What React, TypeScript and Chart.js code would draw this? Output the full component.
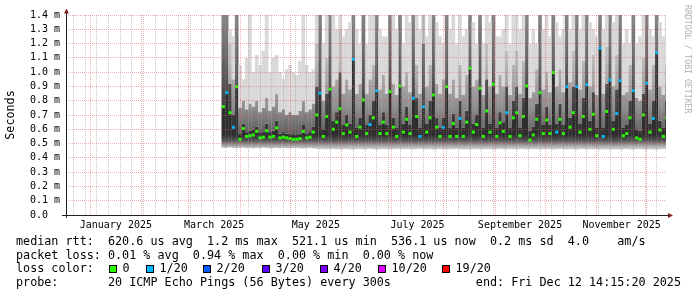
import React, { useEffect, useRef } from "react";
import { Chart, registerables } from "chart.js";

Chart.register(...registerables);

// ---------- time frame ----------
const DAY_MS = 86400000;
const GRAPH_START = Date.UTC(2024, 11, 17, 14, 15, 20);
const GRAPH_END = Date.UTC(2025, 11, 12, 14, 15, 20);
const FIRST_COLUMN = Date.UTC(2025, 2, 22);
const COLUMN_DAYS = 2;

// ---------- data (values in ms) ----------
const medianRtt = [
  0.758, 0.856, 0.716, 0.614, 0.898, 0.53, 0.605, 0.55, 0.555, 0.56,
  0.585, 0.54, 0.545, 0.59, 0.545, 0.55, 0.61, 0.54, 0.545, 0.54,
  0.535, 0.53, 0.53, 0.535, 0.585, 0.54, 0.545, 0.58, 0.7, 0.852,
  0.55, 0.69, 0.88, 0.6, 0.65, 0.744, 0.57, 0.63, 0.58, 1.09,
  0.55, 0.615, 0.805, 0.57, 0.633, 0.68, 0.87, 0.57, 0.65, 0.57,
  0.863, 0.615, 0.55, 0.903, 0.58, 0.67, 0.57, 0.817, 0.69, 0.55,
  0.758, 0.58, 0.68, 0.84, 0.615, 0.55, 0.614, 0.898, 0.55, 0.64,
  0.55, 0.676, 0.55, 0.65, 1.027, 0.58, 0.633, 0.887, 0.55, 0.728,
  0.58, 0.915, 0.55, 0.645, 0.585, 0.716, 0.55, 0.68, 0.716, 0.555,
  0.69, 0.903, 0.525, 0.56, 0.67, 0.856, 0.57, 0.665, 0.57, 0.996,
  0.58, 0.67, 0.57, 0.898, 0.615, 0.716, 0.898, 0.58, 0.69, 0.912,
  0.6, 0.705, 0.555, 1.167, 0.55, 0.725, 0.945, 0.6, 0.71, 0.94,
  0.555, 0.57, 0.68, 0.87, 0.54, 0.53, 0.7, 0.922, 0.58, 0.676,
  1.136, 0.595, 0.55, 0.68,
];

const lostPings = [
  0, 1, 0, 1, 0, 0, 0, 0, 0, 0,
  0, 0, 0, 0, 0, 0, 0, 0, 0, 0,
  0, 0, 0, 0, 0, 0, 0, 0, 0, 1,
  0, 0, 0, 0, 0, 0, 0, 0, 0, 1,
  0, 0, 0, 0, 1, 0, 1, 0, 0, 0,
  0, 0, 0, 0, 0, 0, 0, 1, 0, 1,
  1, 0, 0, 0, 0, 0, 1, 0, 0, 0,
  0, 1, 0, 0, 0, 0, 0, 0, 0, 0,
  0, 0, 0, 0, 0, 1, 0, 0, 0, 0,
  0, 0, 0, 0, 0, 0, 0, 0, 0, 0,
  1, 0, 0, 1, 0, 0, 1, 0, 0, 1,
  0, 0, 0, 1, 1, 0, 1, 0, 1, 1,
  0, 0, 0, 1, 0, 0, 0, 1, 0, 1,
  1, 0, 0, 0,
];

const smokeMin = [
  0.472, 0.47, 0.474, 0.47, 0.468, 0.47, 0.472, 0.468, 0.47, 0.466,
  0.47, 0.468, 0.472, 0.47, 0.466, 0.468, 0.47, 0.467, 0.47, 0.468,
  0.466, 0.468, 0.47, 0.467, 0.465, 0.468, 0.47, 0.466, 0.463, 0.46,
  0.462, 0.458, 0.46, 0.463, 0.46, 0.457, 0.46, 0.462, 0.459, 0.456,
  0.46, 0.462, 0.458, 0.46, 0.463, 0.46, 0.457, 0.46, 0.462, 0.46,
  0.458, 0.46, 0.463, 0.459, 0.46, 0.462, 0.46, 0.457, 0.46, 0.463,
  0.46, 0.458, 0.46, 0.456, 0.46, 0.462, 0.46, 0.458, 0.461, 0.46,
  0.463, 0.46, 0.458, 0.46, 0.456, 0.46, 0.462, 0.458, 0.46, 0.461,
  0.46, 0.457, 0.46, 0.462, 0.46, 0.458, 0.463, 0.46, 0.458, 0.46,
  0.462, 0.457, 0.46, 0.461, 0.46, 0.456, 0.46, 0.462, 0.459, 0.457,
  0.46, 0.462, 0.46, 0.457, 0.46, 0.458, 0.456, 0.46, 0.462, 0.457,
  0.46, 0.458, 0.462, 0.455, 0.46, 0.458, 0.456, 0.46, 0.459, 0.456,
  0.46, 0.462, 0.458, 0.456, 0.46, 0.462, 0.458, 0.456, 0.46, 0.458,
  0.455, 0.46, 0.462, 0.458,
];

const smokeDarkTop = [
  1.4, 1.4, 0.92, 0.7, 1.4, 0.57, 0.64, 0.58, 0.59, 0.6,
  0.62, 0.58, 0.58, 0.64, 0.58, 0.59, 0.66, 0.57, 0.58, 0.57,
  0.57, 0.56, 0.56, 0.57, 0.63, 0.57, 0.58, 0.62, 0.9, 1.4,
  0.6, 0.85, 1.4, 0.66, 0.72, 1.0, 0.63, 0.7, 0.64, 1.4,
  0.61, 0.68, 1.4, 0.63, 0.7, 0.8, 1.4, 0.63, 0.72, 0.63,
  1.4, 0.68, 0.61, 1.4, 0.64, 0.76, 0.63, 1.4, 0.82, 0.61,
  1.2, 0.64, 0.8, 1.4, 0.68, 0.61, 0.68, 1.4, 0.61, 0.71,
  0.61, 0.8, 0.61, 0.73, 1.4, 0.64, 0.7, 1.4, 0.61, 0.95,
  0.64, 1.4, 0.61, 0.72, 0.65, 0.9, 0.61, 0.8, 0.9, 0.61,
  0.82, 1.4, 0.59, 0.62, 0.78, 1.4, 0.63, 0.76, 0.63, 1.4,
  0.64, 0.78, 0.63, 1.4, 0.68, 0.9, 1.4, 0.64, 0.82, 1.4,
  0.66, 0.86, 0.61, 1.4, 0.61, 0.92, 1.4, 0.66, 0.88, 1.4,
  0.61, 0.63, 0.8, 1.4, 0.6, 0.59, 0.85, 1.4, 0.64, 0.8,
  1.4, 0.66, 0.61, 0.8,
];

const smokeMidTop = [
  1.4, 1.4, 1.2, 0.95, 1.4, 0.75, 0.8, 0.74, 0.78, 0.76,
  0.8, 0.72, 0.75, 0.82, 0.73, 0.76, 0.85, 0.72, 0.74, 0.7,
  0.72, 0.7, 0.7, 0.73, 0.8, 0.72, 0.74, 0.78, 1.2, 1.4,
  0.8, 1.1, 1.4, 0.9, 0.95, 1.3, 0.85, 0.95, 0.88, 1.4,
  0.85, 0.92, 1.4, 0.85, 0.95, 1.05, 1.4, 0.88, 0.98, 0.85,
  1.4, 0.92, 0.84, 1.4, 0.9, 1.0, 0.86, 1.4, 1.05, 0.85,
  1.4, 0.9, 1.05, 1.4, 0.92, 0.85, 0.95, 1.4, 0.85, 0.95,
  0.82, 1.05, 0.84, 0.98, 1.4, 0.9, 0.95, 1.4, 0.84, 1.2,
  0.9, 1.4, 0.85, 0.98, 0.9, 1.15, 0.84, 1.05, 1.15, 0.85,
  1.08, 1.4, 0.82, 0.86, 1.02, 1.4, 0.88, 1.0, 0.86, 1.4,
  0.9, 1.02, 0.86, 1.4, 0.93, 1.15, 1.4, 0.88, 1.08, 1.4,
  0.9, 1.12, 0.84, 1.4, 0.85, 1.18, 1.4, 0.9, 1.12, 1.4,
  0.84, 0.86, 1.05, 1.4, 0.82, 0.8, 1.1, 1.4, 0.88, 1.05,
  1.4, 0.9, 0.84, 1.05,
];

const smokeMax = [
  1.4, 1.4, 1.3, 1.25, 1.4, 1.05, 0.95, 1.1, 1.4, 1.0,
  1.12, 1.05, 1.15, 1.4, 1.0, 1.1, 1.12, 1.0, 0.95, 1.02,
  1.05, 1.0, 0.98, 1.08, 1.4, 1.05, 1.0, 1.02, 1.4, 1.4,
  1.2, 1.4, 1.4, 1.4, 1.3, 1.4, 1.25, 1.3, 1.35, 1.4,
  1.3, 1.2, 1.4, 1.2, 1.4, 1.4, 1.4, 1.3, 1.25, 1.25,
  1.4, 1.4, 1.3, 1.4, 1.2, 1.4, 1.35, 1.4, 1.4, 1.3,
  1.4, 1.25, 1.4, 1.4, 1.35, 1.25, 1.2, 1.4, 1.3, 1.4,
  1.2, 1.4, 1.25, 1.3, 1.4, 1.35, 1.2, 1.4, 1.2, 1.4,
  1.35, 1.4, 1.25, 1.25, 1.3, 1.4, 1.2, 1.4, 1.4, 1.3,
  1.4, 1.4, 1.2, 1.3, 1.2, 1.4, 1.3, 1.4, 1.25, 1.4,
  1.35, 1.25, 1.3, 1.4, 1.3, 1.4, 1.4, 1.3, 1.4, 1.4,
  1.35, 1.3, 1.25, 1.4, 1.3, 1.4, 1.4, 1.35, 1.4, 1.4,
  1.2, 1.3, 1.2, 1.4, 1.2, 1.25, 1.4, 1.4, 1.3, 1.25,
  1.4, 1.35, 1.25, 1.4,
];

// ---------- axes / legend text ----------
const yTickValues = [0, 0.1, 0.2, 0.3, 0.4, 0.5, 0.6, 0.7, 0.8, 0.9, 1.0, 1.1, 1.2, 1.3, 1.4];
const monthLabels = ["January 2025", "March 2025", "May 2025", "July 2025", "September 2025", "November 2025"];
const monthLabelIndex = [0, 2, 4, 6, 8, 10];

const lossThresholds = [0, 1, 2, 3, 4, 10, 19];
const lossLabels = ["0", "1/20", "2/20", "3/20", "4/20", "10/20", "19/20"];
const lossColors = ["#26ff00", "#00b8ff", "#0059ff", "#5e00ff", "#7e00ff", "#dd00ff", "#ff0000"];

const legendRtt = "median rtt:  620.6 us avg  1.2 ms max  521.1 us min  536.1 us now  0.2 ms sd  4.0    am/s";
const legendLoss = "packet loss: 0.01 % avg  0.94 % max  0.00 % min  0.00 % now";
const legendLossTitle = "loss color:";
const legendProbe = "probe:       20 ICMP Echo Pings (56 Bytes) every 300s            end: Fri Dec 12 14:15:20 2025";
const watermark = "RRDTOOL / TOBI OETIKER";

// ---------- helpers ----------
const toDay = (ms: number) => (ms - GRAPH_START) / DAY_MS;
const columnDay = (i: number) => toDay(FIRST_COLUMN + i * COLUMN_DAYS * DAY_MS);
const lossColor = (lost: number) => {
  let idx = 0;
  lossThresholds.forEach((t, k) => { if (lost >= t) idx = k; });
  return lossColors[idx];
};

const MONO = '"DejaVu Sans Mono", monospace';

function vGradient(chart: any, stops: [number, string][]) {
  const { ctx, chartArea, scales } = chart;
  if (!chartArea) return stops[stops.length - 1][1];
  const v0 = stops[0][0];
  const v1 = stops[stops.length - 1][0];
  const g = ctx.createLinearGradient(0, scales.y.getPixelForValue(v0), 0, scales.y.getPixelForValue(v1));
  stops.forEach(([v, c]) => g.addColorStop((v - v0) / (v1 - v0), c));
  return g;
}

const lowStops: [number, string][] = [[0.455, "#dcdcdc"], [0.49, "#9a9a9a"], [0.52, "#555555"], [0.56, "#2e2e2e"]];
const darkStops: [number, string][] = [[0.55, "#2e2e2e"], [0.85, "#4a4a4a"], [1.4, "#868686"]];
const midStops: [number, string][] = [[0.56, "#5a5a5a"], [0.75, "#8e8e8e"], [1.1, "#bdbdbd"]];

const rrdDecor = {
  id: "rrdDecor",
  afterDatasetsDraw(chart: any) {
    const { ctx, chartArea: a, scales } = chart;
    const xs = scales.x;
    const ys = scales.y;
    const snap = (v: number) => Math.round(v - 0.5) + 0.5;
    const line = (x1: number, y1: number, x2: number, y2: number) => {
      ctx.beginPath();
      ctx.moveTo(x1, y1);
      ctx.lineTo(x2, y2);
      ctx.stroke();
    };
    ctx.save();
    ctx.lineWidth = 1;
    ctx.setLineDash([1, 1]);

    const monthStarts: number[] = [];
    for (let m = 0; m < 12; m++) monthStarts.push(Date.UTC(2025, m, 1));

    // minor grid: weekly
    ctx.strokeStyle = "rgba(143,143,143,0.5)";
    for (let t = Date.UTC(2024, 11, 22); t < GRAPH_END; t += 7 * DAY_MS) {
      if (monthStarts.includes(t)) continue;
      const x = snap(xs.getPixelForValue(toDay(t)));
      line(x, a.top, x, a.bottom);
    }
    // major grid: months + value lines
    ctx.strokeStyle = "rgba(222,79,79,0.45)";
    monthStarts.forEach((t) => {
      const x = snap(xs.getPixelForValue(toDay(t)));
      line(x, a.top, x, a.bottom);
    });
    yTickValues.forEach((v) => {
      const y = snap(ys.getPixelForValue(v));
      line(a.left, y, a.right, y);
    });

    // axes
    ctx.setLineDash([]);
    ctx.strokeStyle = "#1f1f1f";
    const yb = snap(a.bottom);
    const xl = snap(a.left);
    line(a.left - 4, yb, a.right + 3, yb);
    line(xl, a.bottom + 3, xl, a.top - 3);

    // arrows
    ctx.fillStyle = "#801f1f";
    ctx.beginPath();
    ctx.moveTo(a.right + 7, yb);
    ctx.lineTo(a.right + 2, yb - 2.5);
    ctx.lineTo(a.right + 2, yb + 2.5);
    ctx.closePath();
    ctx.fill();
    ctx.beginPath();
    ctx.moveTo(xl, a.top - 6.5);
    ctx.lineTo(xl - 2.5, a.top - 1.5);
    ctx.lineTo(xl + 2.5, a.top - 1.5);
    ctx.closePath();
    ctx.fill();

    // x labels, centred on the month
    ctx.fillStyle = "#000";
    ctx.font = `10px ${MONO}`;
    ctx.textAlign = "center";
    ctx.textBaseline = "alphabetic";
    monthLabels.forEach((lab, k) => {
      const m = monthLabelIndex[k];
      const mid = (Date.UTC(2025, m, 1) + Date.UTC(2025, m + 1, 1)) / 2;
      ctx.fillText(lab, xs.getPixelForValue(toDay(mid)), a.bottom + 13);
    });
    ctx.restore();
  },
};

export default function App() {
  const canvasRef = useRef<HTMLCanvasElement | null>(null);

  useEffect(() => {
    const canvas = canvasRef.current;
    if (!canvas) return;

    const band = (lo: number[], hi: number[]) =>
      lo.map((v, i) => ({ x: columnDay(i), y: [v, hi[i]] }));

    const barCommon = {
      type: "bar" as const,
      grouped: false,
      barPercentage: 1.1,
      categoryPercentage: 1,
      borderWidth: 0,
    };

    const chart = new Chart(canvas, {
      type: "bar",
      data: {
        datasets: [
          {
            ...barCommon,
            data: band(smokeMin, medianRtt) as any,
            backgroundColor: (c: any) => vGradient(c.chart, lowStops),
            order: 5,
          },
          {
            ...barCommon,
            data: band(medianRtt, smokeDarkTop) as any,
            backgroundColor: (c: any) => vGradient(c.chart, darkStops),
            order: 4,
          },
          {
            ...barCommon,
            data: band(smokeDarkTop, smokeMidTop) as any,
            backgroundColor: (c: any) => vGradient(c.chart, midStops),
            order: 3,
          },
          {
            ...barCommon,
            data: band(smokeMidTop, smokeMax) as any,
            backgroundColor: "#d9d9d9",
            order: 2,
          },
          {
            type: "scatter" as const,
            data: medianRtt.map((v, i) => ({ x: columnDay(i), y: v })) as any,
            showLine: false,
            pointStyle: "rect",
            pointRadius: 2.1,
            pointHoverRadius: 2.1,
            pointBorderWidth: 0,
            pointBackgroundColor: lostPings.map(lossColor),
            order: 0,
          } as any,
        ],
      },
      options: {
        responsive: false,
        animation: false,
        devicePixelRatio: 1,
        events: [],
        layout: { padding: { left: 0, top: 15, right: 31, bottom: 82 } },
        plugins: { legend: { display: false }, tooltip: { enabled: false } },
        scales: {
          x: {
            type: "linear",
            display: false,
            offset: false,
            min: 0,
            max: toDay(GRAPH_END),
          },
          y: {
            type: "linear",
            min: 0,
            max: 1.4,
            grid: { display: false, drawTicks: false },
            border: { display: false },
            afterBuildTicks: (scale: any) => {
              scale.ticks = yTickValues.map((v) => ({ value: v }));
            },
            afterFit: (scale: any) => {
              scale.width = 66;
            },
            ticks: {
              autoSkip: false,
              padding: 6,
              color: "#000",
              font: { family: MONO, size: 10 },
              callback: (v: any) => (Number(v) === 0 ? "0.0  " : `${Number(v).toFixed(1)} m`),
            },
            title: {
              display: true,
              text: "Seconds",
              color: "#000",
              font: { family: MONO, size: 11.75 },
              padding: { top: 4, bottom: 4 },
            },
          },
        },
      },
      plugins: [rrdDecor],
    } as any);

    return () => chart.destroy();
  }, []);

  const textStyle: React.CSSProperties = {
    position: "absolute",
    fontFamily: MONO,
    fontSize: "11.75px",
    lineHeight: "14px",
    whiteSpace: "pre",
    color: "#000",
    margin: 0,
  };
  const lossBoxX = [109, 146, 203, 262, 320, 378, 442];

  return (
    <div
      style={{
        position: "absolute",
        left: 0,
        top: 0,
        width: 697,
        height: 297,
        background: "#fff",
        overflow: "hidden",
      }}
    >
      <canvas
        ref={canvasRef}
        width={697}
        height={297}
        style={{ position: "absolute", left: 0, top: 0, width: 697, height: 297 }}
      />
      <div
        style={{
          position: "absolute",
          left: 693,
          top: 5,
          transform: "rotate(90deg)",
          transformOrigin: "top left",
          fontFamily: MONO,
          fontSize: "8.2px",
          lineHeight: "10px",
          whiteSpace: "pre",
          color: "#b0b0b0",
        }}
      >
        {watermark}
      </div>
      <div style={{ ...textStyle, left: 16, top: 234 }}>{legendRtt}</div>
      <div style={{ ...textStyle, left: 16, top: 247.7 }}>{legendLoss}</div>
      <div style={{ ...textStyle, left: 16, top: 261.4 }}>{legendLossTitle}</div>
      {lossLabels.map((lab, k) => (
        <React.Fragment key={lab}>
          <div
            style={{
              position: "absolute",
              left: lossBoxX[k],
              top: 265,
              width: 6,
              height: 6,
              border: "1px solid #000",
              background: lossColors[k],
            }}
          />
          <div style={{ ...textStyle, left: lossBoxX[k] + 13.5, top: 261.4 }}>{lab}</div>
        </React.Fragment>
      ))}
      <div style={{ ...textStyle, left: 16, top: 275 }}>{legendProbe}</div>
    </div>
  );
}
